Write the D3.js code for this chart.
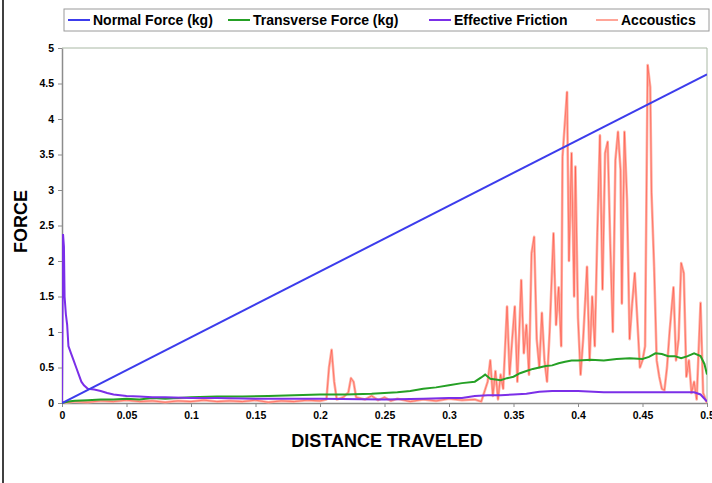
<!DOCTYPE html>
<html>
<head>
<meta charset="utf-8">
<script src="https://cdnjs.cloudflare.com/ajax/libs/d3/7.8.5/d3.min.js"></script>
<style>
  body { margin: 0; background: #fff; }
  svg text { font-family: "Liberation Sans", Arial, sans-serif; font-weight: bold; fill: #000; }
</style>
</head>
<body>
<svg id="chart" width="712" height="483"></svg>
<script>
// tick labels
var xTicks = [0, 0.05, 0.1, 0.15, 0.2, 0.25, 0.3, 0.35, 0.4, 0.45, 0.5]
var yTicks = [0, 0.5, 1, 1.5, 2, 2.5, 3, 3.5, 4, 4.5, 5]

var seriesNames = ["Normal Force (kg)", "Transverse Force (kg)", "Effective Friction", "Accoustics"]

// normal force ramps linearly
var normalX = [0, 0.5]
var normalY = [0, 4.63]

var transX = [0, 0.005, 0.01, 0.02, 0.03, 0.04, 0.05, 0.06, 0.07, 0.08, 0.1, 0.12, 0.14, 0.16, 0.18, 0.2, 0.22, 0.24, 0.26, 0.27, 0.28, 0.29, 0.3, 0.31, 0.32, 0.325, 0.328, 0.332, 0.336, 0.34, 0.345, 0.35, 0.355, 0.36, 0.365, 0.37, 0.375, 0.38, 0.385, 0.39, 0.395, 0.4, 0.41, 0.42, 0.43, 0.44, 0.45, 0.455, 0.46, 0.465, 0.47, 0.475, 0.48, 0.485, 0.49, 0.495, 0.498, 0.5]
var transY = [0, 0.02, 0.03, 0.04, 0.05, 0.05, 0.06, 0.05, 0.07, 0.06, 0.08, 0.09, 0.09, 0.1, 0.11, 0.12, 0.12, 0.13, 0.15, 0.17, 0.2, 0.22, 0.25, 0.28, 0.3, 0.36, 0.4, 0.34, 0.33, 0.32, 0.35, 0.37, 0.42, 0.45, 0.48, 0.5, 0.52, 0.53, 0.56, 0.58, 0.6, 0.6, 0.61, 0.6, 0.62, 0.63, 0.62, 0.65, 0.7, 0.69, 0.66, 0.66, 0.63, 0.66, 0.7, 0.66, 0.55, 0.4]

var fricX = [0, 0.0008, 0.0015, 0.002, 0.003, 0.004, 0.005, 0.007, 0.009, 0.011, 0.013, 0.015, 0.017, 0.02, 0.025, 0.03, 0.035, 0.04, 0.05, 0.06, 0.07, 0.08, 0.1, 0.12, 0.15, 0.18, 0.2, 0.25, 0.28, 0.3, 0.31, 0.32, 0.33, 0.34, 0.35, 0.36, 0.37, 0.38, 0.4, 0.42, 0.44, 0.46, 0.48, 0.49, 0.495, 0.5]
var fricY = [0, 2.38, 2.2, 1.5, 1.25, 1.1, 0.8, 0.7, 0.6, 0.5, 0.4, 0.3, 0.25, 0.2, 0.19, 0.17, 0.14, 0.12, 0.1, 0.09, 0.08, 0.08, 0.07, 0.07, 0.06, 0.06, 0.06, 0.05, 0.06, 0.07, 0.07, 0.1, 0.11, 0.11, 0.12, 0.13, 0.16, 0.17, 0.17, 0.15, 0.15, 0.15, 0.15, 0.15, 0.12, 0.02]

var acouX = [0, 0.01, 0.02, 0.03, 0.04, 0.05, 0.06, 0.07, 0.08, 0.09, 0.1, 0.11, 0.12, 0.13, 0.14, 0.15, 0.16, 0.17, 0.18, 0.19, 0.2, 0.205, 0.207, 0.209, 0.211, 0.213, 0.218, 0.222, 0.224, 0.226, 0.228, 0.235, 0.24, 0.245, 0.25, 0.255, 0.26, 0.27, 0.28, 0.29, 0.3, 0.31, 0.32, 0.325, 0.33, 0.332, 0.334, 0.336, 0.338, 0.34, 0.342, 0.345, 0.347, 0.349, 0.351, 0.353, 0.356, 0.358, 0.36, 0.362, 0.364, 0.366, 0.368, 0.37, 0.372, 0.374, 0.376, 0.378, 0.381, 0.383, 0.385, 0.387, 0.388, 0.3915, 0.393, 0.395, 0.397, 0.398, 0.4, 0.402, 0.404, 0.407, 0.409, 0.411, 0.413, 0.415, 0.417, 0.419, 0.421, 0.423, 0.425, 0.427, 0.429, 0.431, 0.433, 0.434, 0.436, 0.438, 0.44, 0.442, 0.444, 0.446, 0.448, 0.45, 0.452, 0.454, 0.456, 0.457, 0.459, 0.461, 0.463, 0.465, 0.467, 0.469, 0.471, 0.474, 0.476, 0.478, 0.48, 0.482, 0.484, 0.486, 0.488, 0.49, 0.492, 0.495, 0.497, 0.5]
var acouY = [0, 0.02, 0.01, 0.03, 0.02, 0.04, 0.02, 0.03, 0.01, 0.03, 0.02, 0.04, 0.02, 0.03, 0.02, 0.04, 0.01, 0.03, 0.02, 0.04, 0.03, 0.05, 0.5, 0.75, 0.3, 0.05, 0.08, 0.15, 0.35, 0.3, 0.08, 0.05, 0.1, 0.04, 0.08, 0.03, 0.06, 0.02, 0.05, 0.03, 0.06, 0.04, 0.05, 0.02, 0.3, 0.6, 0.1, 0.45, 0.05, 0.4, 0.2, 1.36, 0.4, 0.9, 1.36, 0.3, 1.73, 0.7, 1.1, 0.4, 2.11, 2.34, 0.9, 0.5, 1.27, 0.6, 0.3, 1.0, 2.39, 1.1, 1.63, 0.8, 3.47, 4.38, 2.0, 3.52, 1.5, 3.33, 1.2, 0.4, 0.9, 1.92, 0.6, 1.5, 0.8, 2.4, 3.77, 1.6, 3.52, 3.68, 2.25, 1.0, 3.42, 3.82, 3.28, 1.4, 3.82, 2.86, 0.9, 1.4, 1.83, 1.17, 0.5, 0.6, 0.8, 4.76, 4.45, 2.96, 1.92, 0.6, 0.37, 0.2, 0.18, 0.5, 1.0, 1.63, 0.6, 0.9, 1.97, 1.83, 0.37, 0.6, 0.14, 0.3, 0.05, 1.41, 0.14, 0]

var colors = ["#3c3cec", "#25a025", "#7b2fe8", "#ff7a6a"]

var margin = {top: 48, left: 62}
var width = 645, height = 355

var svg = d3.select("#chart")

// outer frame line on the left
svg.append("line").attr("x1", 3).attr("x2", 3).attr("y1", 0).attr("y2", 483)
    .style("stroke", "#000").style("stroke-width", 1.5)

var g = svg.append("g").attr("transform", "translate(" + margin.left + "," + margin.top + ")")

var xScale = d3.scaleLinear().domain([0, 0.5]).range([0, width])
var yScale = d3.scaleLinear().domain([0, 5]).range([height, 0])

// plot box (top + right)
g.append("path")
    .attr("d", "M0,0H" + width + "V" + height)
    .style("fill", "none").style("stroke", "#a9b8a4").style("stroke-width", 1)

var xAxis = g.append("g")
    .attr("transform", "translate(0," + height + ")")
    .call(d3.axisBottom(xScale).tickValues(xTicks).tickSize(4).tickSizeOuter(0).tickFormat(d3.format("")))
var yAxis = g.append("g")
    .call(d3.axisLeft(yScale).tickValues(yTicks).tickSize(4).tickSizeOuter(0).tickFormat(d3.format("")))

;[xAxis, yAxis].forEach(function(a){
    a.select(".domain").style("stroke", "#8c8c8c").style("stroke-width", 1.5)
    a.selectAll(".tick line").style("stroke", "#8c8c8c")
    a.selectAll("text").style("font-family", "'Liberation Sans', Arial, sans-serif")
        .style("font-weight", "bold").style("font-size", "10.5px")
})
xAxis.selectAll("text").attr("dy", "0.9em")
yAxis.selectAll("text").attr("x", -8)

var line = d3.line()
    .x(function(d) { return xScale(d[0]) })
    .y(function(d) { return yScale(d[1]) })

function pairs(xs, ys){
    return xs.map(function(x, i){ return [x, ys[i]] })
}

var clip = g.append("clipPath").attr("id", "plotclip")
clip.append("rect").attr("width", width).attr("height", height + 1)

var lines = g.append("g").attr("clip-path", "url(#plotclip)")

// acoustics: wide pale stroke plus a thin red core, like the original trace
lines.append("path").datum(pairs(acouX, acouY))
    .attr("d", line)
    .style("fill", "none").style("stroke", "#ffb0a4").style("stroke-width", 2.6)
    .style("stroke-linejoin", "round")
lines.append("path").datum(pairs(acouX, acouY))
    .attr("d", line)
    .style("fill", "none").style("stroke", "#ff4a3a").style("stroke-width", 0.8)
    .style("stroke-opacity", 0.7).style("stroke-linejoin", "round")

lines.append("path").datum(pairs(transX, transY))
    .attr("d", line)
    .style("fill", "none").style("stroke", colors[1]).style("stroke-width", 2)

lines.append("path").datum(pairs(fricX, fricY))
    .attr("d", line)
    .style("fill", "none").style("stroke", colors[2]).style("stroke-width", 2)

lines.append("path").datum(pairs(normalX, normalY))
    .attr("d", line)
    .style("fill", "none").style("stroke", colors[0]).style("stroke-width", 2)

// axis titles
svg.append("text")
    .attr("transform", "translate(27," + (margin.top + height / 2 - 4) + ") rotate(-90)")
    .attr("text-anchor", "middle")
    .style("font-size", "18px")
    .text("FORCE")

svg.append("text")
    .attr("x", 387).attr("y", 447)
    .attr("text-anchor", "middle")
    .style("font-size", "18px")
    .text("DISTANCE TRAVELED")

// legend
var legend = svg.append("g")
legend.append("rect").attr("x", 64).attr("y", 9).attr("width", 645).attr("height", 22)
    .style("fill", "#fff").style("stroke", "#9a9a9a").style("stroke-width", 1)

var legX = [68, 228, 429, 596]
var legColors = [colors[0], colors[1], colors[2], "#ffa598"]
seriesNames.forEach(function(name, i){
    legend.append("line")
        .attr("x1", legX[i]).attr("x2", legX[i] + 22).attr("y1", 20).attr("y2", 20)
        .style("stroke", legColors[i]).style("stroke-width", 2)
    legend.append("text")
        .attr("x", legX[i] + 25).attr("y", 25)
        .style("font-size", "14px")
        .text(name)
})
</script>
</body>
</html>
